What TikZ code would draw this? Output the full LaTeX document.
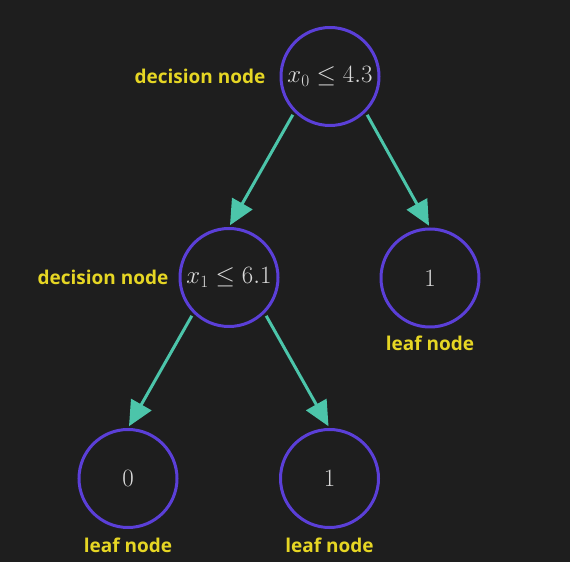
\documentclass[tikz,border=0pt]{standalone}
\usepackage{amsmath}
\usepackage{fontspec}
\newfontfamily\tagfont{Open Sans}
\usetikzlibrary{positioning,arrows.meta}

\definecolor{bg}{HTML}{1E1E1E}
\definecolor{ring}{HTML}{5B3FD8}
\definecolor{arrowteal}{HTML}{4CC5AA}
\definecolor{tagyellow}{HTML}{E6D624}
\definecolor{valgrey}{HTML}{DADADA}

\begin{document}
\begin{tikzpicture}[x=1pt,y=1pt,
    tree/.style={circle,draw=ring,line width=3pt,minimum size=98pt,inner sep=0pt,
        text=valgrey,font=\fontsize{24}{28}\selectfont},
    tag/.style={text=tagyellow,inner sep=0pt,font=\tagfont\bfseries\fontsize{19}{22}\selectfont},
    link/.style={draw=arrowteal,line width=3pt,
        -{Triangle[length=25pt,width=23pt,fill=arrowteal]},
        shorten <=3pt,shorten >=2pt}]

\fill[bg] (0,0) rectangle (570,562);

    \node (a) at (330,485.5) [tree] {$x_0 \leq 4.3$};
    \node (b) at (229,284.5) [tree] {$x_1 \leq 6.1$};
    \node (c) at (430,284) [tree] {$1$};
    \node (d) at (128,83.5) [tree] {$0$};
    \node (e) at (329.5,83.5) [tree] {$1$};

    \node (ta) [tag,left=14pt of a] {decision node};
    \node (tb) [tag,left=10pt of b] {decision node};
    \node (tc) [tag,below=7pt of c] {leaf node};
    \node (td) [tag,below=9pt of d] {leaf node};
    \node (te) [tag,below=9pt of e] {leaf node};

    \path
        (a.south west) edge [link] (b.north)
        (a.south east) edge [link] (c.north)
        (b.south west) edge [link] (d.north)
        (b.south east) edge [link] (e.north);

\end{tikzpicture}
\end{document}
